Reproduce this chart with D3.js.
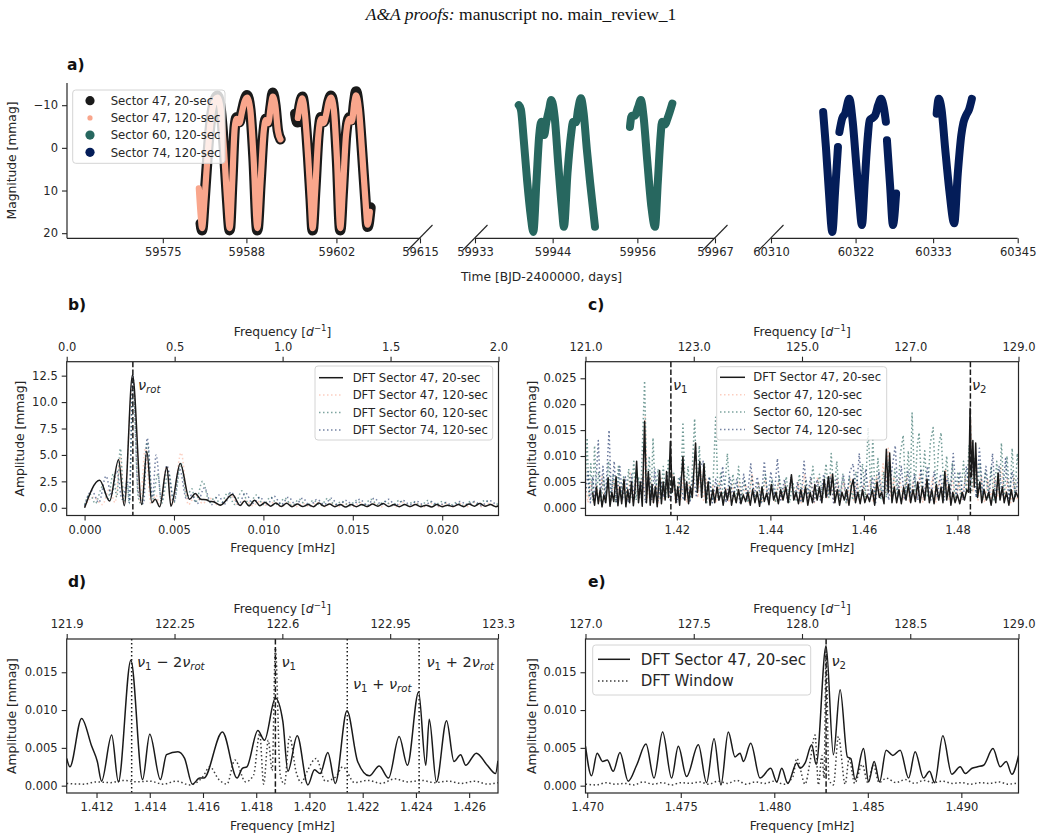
<!DOCTYPE html>
<html>
<head>
<meta charset="utf-8">
<title>TESS light curves and DFT</title>
<script src="https://cdn.jsdelivr.net/npm/d3@7"></script>
<style>
  body{ margin:0; background:#fff; }
  svg{ font-family:"DejaVu Sans", sans-serif; }
</style>
</head>
<body>
<div id="container"></div>
<script>
// ---------------- data ----------------
// panel a light curves, [BJD-2400000, mmag], split where the data have gaps
const s47_20 = [
  [[59580.9,17.7],[59581.1,19.3],[59581.5,12],[59582.0,1],[59582.5,-7],[59583.0,-11],[59583.5,-12.2],[59584.0,-9],[59584.5,0],[59585.0,12],[59585.4,19.3],
   [59585.8,8],[59586.2,-5],[59586.5,-7.2],[59586.9,-6],[59587.3,-8.5],[59587.7,-11],[59588.1,-12.3],[59588.6,-9],[59589.1,2],[59589.7,19.3],
   [59590.2,8],[59590.7,-4],[59591.0,-6.8],[59591.4,-6],[59591.8,-10],[59592.1,-12.9],[59592.5,-10],[59592.9,-4],[59593.3,-2]],
  [[59595.6,-8],[59595.9,-6],[59596.3,-10],[59596.7,-12],[59597.1,-8],[59597.6,2],[59598.0,12],[59598.3,19.3],[59598.7,10],[59599.2,-3],
   [59599.6,-7.2],[59600.0,-6],[59600.4,-8],[59600.8,-11],[59601.15,-12.2],[59601.6,-9],[59602.1,3],[59602.6,19.3],[59603.0,10],[59603.5,-3],
   [59604.0,-7.2],[59604.4,-6.5],[59604.8,-11],[59605.05,-13.2],[59605.5,-9],[59606.0,1],[59606.5,12],[59606.85,18.5],[59607.3,14]]
];
const s47_120 = [
  [[59580.6,9.5],[59580.9,16],[59581.1,18.8],[59581.5,12],[59582.0,1],[59582.5,-7],[59583.0,-10.8],[59583.5,-11.8],[59584.0,-9],[59584.5,0],[59585.0,12],[59585.4,18.8],
   [59585.8,8],[59586.2,-5],[59586.5,-6.8],[59586.9,-5.8],[59587.3,-8.3],[59587.7,-10.8],[59588.1,-11.8],[59588.6,-9],[59589.1,2],[59589.7,18.8],
   [59590.2,8],[59590.7,-4],[59591.0,-6.5],[59591.4,-5.8],[59591.8,-9.8],[59592.1,-12],[59592.5,-10],[59592.9,-4],[59593.3,-2]],
  [[59596.0,-7],[59596.3,-9.8],[59596.7,-11.6],[59597.1,-8],[59597.6,2],[59598.0,12],[59598.3,18.8],[59598.7,10],[59599.2,-3],
   [59599.6,-6.8],[59600.0,-5.8],[59600.4,-7.8],[59600.8,-10.8],[59601.15,-11.8],[59601.6,-9],[59602.1,3],[59602.6,18.8],[59603.0,10],[59603.5,-3],
   [59604.0,-6.8],[59604.4,-6.2],[59604.8,-10.8],[59605.05,-12.3],[59605.5,-9],[59606.0,1],[59606.5,12],[59606.85,18],[59607.2,15]]
];
const s60_120 = [
  [[59939.2,-10],[59939.5,-9],[59939.9,-2],[59940.4,8],[59940.9,16],[59941.26,19.7],[59941.7,8],[59942.1,-3],[59942.4,-6.1],[59942.8,-3],
   [59943.1,-6],[59943.5,-9],[59943.8,-11.2],[59944.3,-7],[59944.8,4],[59945.3,14],[59945.6,18.5],[59946.1,6],[59946.6,-3],[59946.9,-6.1],
   [59947.3,-6],[59947.6,-9],[59948.0,-11.6],[59948.4,-8],[59948.85,0.5],[59949.3,8],[59949.7,14],[59950.0,18.5]],
  [[59954.95,-4.9],[59955.2,-7.5],[59955.6,-7.5],[59956.1,-9.5],[59956.5,-11.2],[59956.9,-7],[59957.4,3],[59958.0,14],[59958.5,18.5],
   [59958.9,8],[59959.3,-3],[59959.5,-6.1],[59959.9,-5.5],[59960.3,-7],[59960.96,-10.4]]
];
const s74_120 = [
  [[60317.4,-8.4],[60317.8,0],[60318.2,10],[60318.7,19.7],[60319.1,10],[60319.5,-0.2]],
  [[60319.7,-3.7],[60320.1,-6.9],[60320.5,-8],[60321.1,-11.5],[60321.6,-6],[60322.1,4],[60322.5,12],[60322.9,18.1],[60323.3,8],[60323.7,-2],
   [60324.0,-6.5],[60324.4,-7],[60324.8,-7.7],[60325.2,-10],[60325.6,-11.5],[60326.0,-9.5],[60326.3,-6.1]],
  [[60326.45,-1.8],[60326.9,9],[60327.3,18.1],[60327.75,10.7]],
  [[60333.5,-8],[60333.8,-11.5],[60334.2,-9],[60334.7,0],[60335.3,10],[60336.0,17.7],[60336.5,6],[60337.0,-3],[60337.3,-5.9],
   [60337.7,-7.7],[60338.1,-9],[60338.5,-11.5]]
];
const lcLabels = ["Sector 47, 20-sec", "Sector 47, 120-sec", "Sector 60, 120-sec", "Sector 74, 120-sec"];
const timeTicks = [[59575,59588,59602,59615],[59933,59944,59956,59967],[60310,60322,60333,60345]];
const magTicks = [-10, 0, 10, 20];

// frequencies of the marked modes [mHz]
const nuRot = 0.0027, nu1 = 1.41872, nu2 = 1.48277;

// panel b, low frequency DFT [mHz, mmag]
const dftB47_20 = [[0,0],[0.00084,2.6],[0.0014,0.63],[0.0019,4.55],[0.00222,0.2],[0.00268,12.56],[0.0032,0.3],[0.00348,5.34],[0.00376,0.47],
  [0.00395,0.8],[0.0042,0.1],[0.0046,3.86],[0.00483,0.15],[0.00535,4.18],[0.00587,0.8],[0.00619,1.35],[0.0065,0.8],[0.0068,0.75],[0.0070,0.6],
  [0.0072,0.57],[0.0076,0.25],[0.00827,1.26],[0.0087,0.22],[0.00894,0.63],[0.0092,0.16],[0.0095,0.72],[0.0098,0.2],[0.0101,0.5],[0.0104,0.15],
  [0.0107,0.45],[0.0110,0.12],[0.0113,0.42],[0.0116,0.1],[0.0119,0.35],[0.0122,0.12],[0.0125,0.3],[0.0128,0.1],[0.0131,0.45],[0.0134,0.15],
  [0.0137,0.35],[0.0140,0.1],[0.0143,0.3],[0.0146,0.08],[0.0149,0.3],[0.0152,0.1],[0.0155,0.3],[0.0158,0.12],[0.0161,0.35],[0.0164,0.15],
  [0.0167,0.4],[0.0170,0.12],[0.0173,0.3],[0.0176,0.1],[0.0179,0.3],[0.0182,0.12],[0.0185,0.3],[0.0188,0.1],[0.0191,0.25],[0.0194,0.08],
  [0.0197,0.3],[0.0200,0.1],[0.0203,0.25],[0.0206,0.12],[0.0209,0.3],[0.0212,0.1],[0.0215,0.35],[0.0218,0.15],[0.0221,0.4],[0.0224,0.15],
  [0.0227,0.3],[0.0230,0.1],[0.0232,0.25]];
const dftB47_120 = [[0,0.1],[0.0005,1.0],[0.0010,0.3],[0.0014,1.8],[0.0017,0.5],[0.0020,4.8],[0.0022,0.4],[0.0027,12.2],[0.0031,0.5],[0.0034,5.6],
  [0.0037,0.4],[0.0040,1.2],[0.0042,0.2],[0.0046,3.9],[0.0049,0.3],[0.0054,5.2],[0.0058,0.3],[0.0062,1.2],[0.0066,0.4],[0.0070,0.9],[0.0075,0.2],
  [0.0082,1.1],[0.0086,0.2],[0.0090,0.7],[0.0094,0.2],[0.0098,0.6],[0.0102,0.2],[0.0106,0.5],[0.0110,0.1],[0.0114,0.5],[0.0118,0.1],[0.0122,0.4],
  [0.0126,0.1],[0.0130,0.5],[0.0134,0.1],[0.0138,0.4],[0.0142,0.1],[0.0146,0.4],[0.0150,0.1],[0.0154,0.5],[0.0158,0.1],[0.0162,0.4],[0.0166,0.1],
  [0.0170,0.4],[0.0174,0.1],[0.0178,0.5],[0.0182,0.1],[0.0186,0.4],[0.0190,0.1],[0.0194,0.4],[0.0198,0.1],[0.0202,0.4],[0.0206,0.1],[0.0210,0.4],
  [0.0214,0.1],[0.0218,0.5],[0.0222,0.1],[0.0226,0.4],[0.0230,0.1]];
const dftB60_120 = [[0,0.3],[0.0003,1.3],[0.0006,0.4],[0.0010,2.0],[0.0013,0.8],[0.0016,3.2],[0.0018,1.0],[0.0020,5.6],[0.0022,0.6],[0.0024,2.2],
  [0.0025,0.4],[0.0027,12.0],[0.0030,1.0],[0.0032,0.3],[0.0035,6.2],[0.0038,0.8],[0.0041,3.2],[0.0043,0.4],[0.0047,3.4],[0.0050,0.5],[0.0054,4.2],
  [0.0057,1.0],[0.0060,1.8],[0.0062,0.5],[0.0066,2.5],[0.0070,0.5],[0.0073,1.0],[0.0076,0.3],[0.0080,1.4],[0.0084,0.3],[0.0088,1.6],[0.0092,0.3],
  [0.0096,1.2],[0.0100,0.3],[0.0104,1.0],[0.0108,0.3],[0.0112,0.9],[0.0116,0.2],[0.0120,0.8],[0.0124,0.2],[0.0128,0.7],[0.0132,0.2],[0.0136,0.9],
  [0.0140,0.3],[0.0144,0.6],[0.0148,0.2],[0.0152,0.7],[0.0156,0.2],[0.0160,0.8],[0.0164,0.3],[0.0168,0.6],[0.0172,0.2],[0.0176,0.7],[0.0180,0.2],
  [0.0184,0.6],[0.0188,0.2],[0.0192,0.7],[0.0196,0.3],[0.0200,0.6],[0.0204,0.2],[0.0208,0.5],[0.0212,0.2],[0.0216,0.6],[0.0220,0.3],[0.0224,0.7],
  [0.0228,0.2],[0.0232,0.5]];
const dftB74_120 = [[0,0.2],[0.0004,1.6],[0.0008,0.5],[0.0012,3.0],[0.0015,1.2],[0.0018,3.5],[0.0021,0.8],[0.0024,2.5],[0.0025,0.5],[0.0027,12.5],
  [0.0030,1.5],[0.0033,0.4],[0.0035,6.6],[0.0038,1.0],[0.0040,5.0],[0.0043,0.7],[0.0046,4.0],[0.0050,0.6],[0.0053,3.8],[0.0057,0.8],[0.0060,1.2],
  [0.0063,0.4],[0.0067,1.9],[0.0071,0.3],[0.0075,1.2],[0.0078,0.3],[0.0082,1.5],[0.0086,0.3],[0.0090,1.4],[0.0094,0.4],[0.0098,1.0],[0.0102,0.3],
  [0.0106,1.1],[0.0110,0.3],[0.0114,1.0],[0.0118,0.3],[0.0122,0.9],[0.0126,0.2],[0.0130,0.8],[0.0134,0.3],[0.0138,0.9],[0.0142,0.2],[0.0146,0.7],
  [0.0150,0.3],[0.0154,0.8],[0.0158,0.2],[0.0162,0.9],[0.0166,0.3],[0.0170,0.8],[0.0174,0.2],[0.0178,0.7],[0.0182,0.3],[0.0186,0.6],[0.0190,0.2],
  [0.0194,0.6],[0.0198,0.2],[0.0202,0.5],[0.0206,0.2],[0.0210,0.6],[0.0214,0.3],[0.0218,0.6],[0.0222,0.2],[0.0226,0.7],[0.0230,0.3]];

// panel c, high frequency DFT [mHz, mmag]
const dftC47_20 = [[1.4020,0.003],[1.4024,0.0005],[1.4028,0.0040],[1.4032,0.0008],[1.4036,0.0035],[1.4040,0.0002],[1.4044,0.0025],[1.4048,0.0010],
  [1.4053,0.0058],[1.4057,0.0003],[1.4061,0.0030],[1.4065,0.0012],[1.4070,0.0060],[1.4074,0.0004],[1.4078,0.0040],[1.4082,0.0008],[1.4087,0.0055],
  [1.4091,0.0002],[1.4095,0.0035],[1.4099,0.0010],[1.4103,0.0050],[1.4107,0.0004],[1.4110,0.0030],[1.4114,0.0090],[1.4118,0.0010],[1.4122,0.0050],
  [1.4126,0.0003],[1.4131,0.0167],[1.4135,0.0010],[1.4139,0.0070],[1.4143,0.0005],[1.4147,0.0045],[1.4150,0.0010],[1.4154,0.0040],[1.4158,0.0002],
  [1.4163,0.0072],[1.4167,0.0008],[1.4171,0.0050],[1.4175,0.0015],[1.4178,0.0070],[1.4182,0.0020],[1.4186,0.0128],[1.4190,0.0030],[1.4194,0.0060],
  [1.4198,0.0010],[1.4202,0.0040],[1.4206,0.0005],[1.4213,0.0099],[1.4217,0.0015],[1.4221,0.0050],[1.4225,0.0008],[1.4229,0.0040],[1.4233,0.0020],
  [1.4240,0.0125],[1.4244,0.0030],[1.4249,0.0090],[1.4253,0.0020],[1.4258,0.0085],[1.4262,0.0010],[1.4267,0.0050],[1.4271,0.0005],[1.4277,0.0035],
  [1.4281,0.0010],[1.4286,0.0040],[1.4290,0.0015],[1.4295,0.0030],[1.4299,0.0005],[1.4304,0.0035],[1.4308,0.0015],[1.4313,0.0040],[1.4317,0.0005],
  [1.4322,0.0030],[1.4327,0.0010],[1.4332,0.0035],[1.4337,0.0008],[1.4342,0.0025],[1.4347,0.0012],[1.4352,0.0030],[1.4357,0.0005],[1.4362,0.0035],
  [1.4367,0.0010],[1.4372,0.0030],[1.4377,0.0003],[1.4382,0.0040],[1.4387,0.0012],[1.4392,0.0028],[1.4397,0.0006],[1.4402,0.0045],[1.4407,0.0015],
  [1.4412,0.0030],[1.4417,0.0008],[1.4422,0.0035],[1.4427,0.0015],[1.4433,0.0040],[1.4438,0.0010],[1.4445,0.0064],[1.4450,0.0015],[1.4455,0.0030],
  [1.4460,0.0008],[1.4465,0.0035],[1.4470,0.0012],[1.4475,0.0040],[1.4480,0.0005],[1.4485,0.0030],[1.4490,0.0010],[1.4495,0.0045],[1.4500,0.0015],
  [1.4505,0.0040],[1.4510,0.0010],[1.4515,0.0055],[1.4519,0.0020],[1.4524,0.0060],[1.4528,0.0025],[1.4533,0.0065],[1.4538,0.0010],[1.4543,0.0035],
  [1.4548,0.0005],[1.4553,0.0030],[1.4558,0.0015],[1.4563,0.0035],[1.4568,0.0005],[1.4573,0.0040],[1.4577,0.0055],[1.4582,0.0010],[1.4587,0.0030],
  [1.4592,0.0008],[1.4597,0.0035],[1.4602,0.0010],[1.4607,0.0025],[1.4612,0.0012],[1.4618,0.0035],[1.4623,0.0005],[1.4628,0.0050],[1.4633,0.0020],
  [1.4638,0.0030],[1.4643,0.0008],[1.4648,0.0113],[1.4652,0.0030],[1.4655,0.0106],[1.4660,0.0010],[1.4665,0.0040],[1.4670,0.0010],[1.4675,0.0035],
  [1.4680,0.0008],[1.4685,0.0040],[1.4690,0.0015],[1.4695,0.0045],[1.4700,0.0010],[1.4705,0.0035],[1.4710,0.0012],[1.4715,0.0050],[1.4720,0.0010],
  [1.4725,0.0040],[1.4730,0.0015],[1.4735,0.0055],[1.4740,0.0010],[1.4745,0.0035],[1.4750,0.0008],[1.4755,0.0045],[1.4760,0.0015],[1.4765,0.0040],
  [1.4769,0.0010],[1.4773,0.0070],[1.4777,0.0015],[1.4782,0.0045],[1.4786,0.0005],[1.4790,0.0030],[1.4795,0.0010],[1.4800,0.0025],[1.4805,0.0008],
  [1.4810,0.0030],[1.4815,0.0015],[1.4820,0.0035],[1.4824,0.0030],[1.4827,0.0192],[1.4830,0.0060],[1.4833,0.0130],[1.4836,0.0040],[1.4839,0.0125],
  [1.4843,0.0020],[1.4848,0.0050],[1.4852,0.0010],[1.4857,0.0035],[1.4862,0.0015],[1.4867,0.0030],[1.4872,0.0005],[1.4877,0.0035],[1.4882,0.0010],
  [1.4887,0.0067],[1.4891,0.0015],[1.4896,0.0040],[1.4900,0.0010],[1.4905,0.0030],[1.4910,0.0005],[1.4915,0.0035],[1.4920,0.0012],[1.4925,0.0030],
  [1.4930,0.0020],[1.4933,0.0028]];
const dftC47_120 = [[1.4005,0.0040],[1.4010,0.0010],[1.4016,0.0050],[1.4022,0.0010],[1.4028,0.0045],[1.4034,0.0010],[1.4040,0.0060],[1.4046,0.0015],
  [1.4052,0.0050],[1.4058,0.0010],[1.4064,0.0055],[1.4070,0.0010],[1.4076,0.0045],[1.4082,0.0010],[1.4088,0.0050],[1.4094,0.0015],[1.4100,0.0070],
  [1.4106,0.0010],[1.4112,0.0060],[1.4118,0.0015],[1.4124,0.0055],[1.4129,0.0030],[1.4132,0.0175],[1.4137,0.0020],[1.4143,0.0060],[1.4149,0.0010],
  [1.4155,0.0045],[1.4161,0.0010],[1.4167,0.0060],[1.4173,0.0015],[1.4179,0.0050],[1.4185,0.0020],[1.4191,0.0065],[1.4197,0.0010],[1.4203,0.0050],
  [1.4209,0.0015],[1.4215,0.0070],[1.4221,0.0010],[1.4227,0.0050],[1.4233,0.0020],[1.4239,0.0110],[1.4245,0.0020],[1.4251,0.0070],[1.4257,0.0015],
  [1.4263,0.0055],[1.4270,0.0010],[1.4277,0.0045],[1.4284,0.0010],[1.4291,0.0050],[1.4298,0.0015],[1.4305,0.0040],[1.4312,0.0010],[1.4319,0.0045],
  [1.4326,0.0010],[1.4333,0.0050],[1.4340,0.0015],[1.4347,0.0045],[1.4354,0.0010],[1.4361,0.0065],[1.4368,0.0015],[1.4375,0.0050],[1.4382,0.0010],
  [1.4389,0.0055],[1.4396,0.0015],[1.4403,0.0045],[1.4410,0.0010],[1.4417,0.0050],[1.4424,0.0015],[1.4431,0.0045],[1.4438,0.0010],[1.4445,0.0060],
  [1.4452,0.0015],[1.4459,0.0050],[1.4466,0.0010],[1.4473,0.0065],[1.4480,0.0015],[1.4487,0.0055],[1.4494,0.0010],[1.4501,0.0060],[1.4508,0.0015],
  [1.4515,0.0050],[1.4522,0.0020],[1.4529,0.0065],[1.4536,0.0010],[1.4543,0.0055],[1.4550,0.0015],[1.4557,0.0050],[1.4564,0.0010],[1.4571,0.0055],
  [1.4578,0.0015],[1.4585,0.0050],[1.4592,0.0010],[1.4599,0.0045],[1.4606,0.0015],[1.4613,0.0055],[1.4620,0.0010],[1.4627,0.0060],[1.4634,0.0020],
  [1.4641,0.0085],[1.4647,0.0030],[1.4652,0.0115],[1.4658,0.0020],[1.4664,0.0060],[1.4670,0.0010],[1.4677,0.0055],[1.4684,0.0015],[1.4691,0.0060],
  [1.4698,0.0010],[1.4705,0.0050],[1.4712,0.0015],[1.4719,0.0065],[1.4726,0.0010],[1.4733,0.0055],[1.4740,0.0015],[1.4747,0.0060],[1.4754,0.0010],
  [1.4761,0.0055],[1.4768,0.0020],[1.4775,0.0075],[1.4782,0.0015],[1.4789,0.0055],[1.4796,0.0010],[1.4803,0.0050],[1.4810,0.0015],[1.4817,0.0060],
  [1.4823,0.0030],[1.4828,0.0170],[1.4833,0.0030],[1.4838,0.0090],[1.4844,0.0015],[1.4851,0.0060],[1.4858,0.0010],[1.4865,0.0055],[1.4872,0.0015],
  [1.4879,0.0060],[1.4886,0.0020],[1.4893,0.0080],[1.4900,0.0015],[1.4907,0.0055],[1.4914,0.0010],[1.4921,0.0060],[1.4928,0.0015],[1.4933,0.0050]];
const dftC60_120 = [[1.4005,0.0060],[1.4008,0.0135],[1.4012,0.0020],[1.4016,0.0085],[1.4020,0.0015],[1.4024,0.0120],[1.4028,0.0025],[1.4033,0.0070],
  [1.4038,0.0010],[1.4043,0.0060],[1.4048,0.0020],[1.4054,0.0090],[1.4059,0.0015],[1.4064,0.0065],[1.4069,0.0010],[1.4075,0.0080],[1.4080,0.0020],
  [1.4086,0.0060],[1.4091,0.0010],[1.4097,0.0075],[1.4102,0.0020],[1.4108,0.0090],[1.4113,0.0015],[1.4118,0.0060],[1.4123,0.0030],[1.4131,0.0245],
  [1.4136,0.0030],[1.4141,0.0100],[1.4145,0.0020],[1.4149,0.0135],[1.4154,0.0020],[1.4160,0.0075],[1.4165,0.0015],[1.4171,0.0080],[1.4176,0.0020],
  [1.4182,0.0095],[1.4187,0.0025],[1.4193,0.0070],[1.4198,0.0015],[1.4204,0.0060],[1.4208,0.0020],[1.4213,0.0165],[1.4218,0.0025],[1.4224,0.0080],
  [1.4229,0.0015],[1.4233,0.0075],[1.4238,0.0172],[1.4243,0.0030],[1.4248,0.0120],[1.4253,0.0020],[1.4259,0.0085],[1.4264,0.0010],[1.4270,0.0060],
  [1.4276,0.0015],[1.4283,0.0175],[1.4288,0.0020],[1.4294,0.0070],[1.4300,0.0010],[1.4308,0.0105],[1.4314,0.0020],[1.4320,0.0065],[1.4326,0.0010],
  [1.4332,0.0080],[1.4338,0.0015],[1.4345,0.0055],[1.4352,0.0010],[1.4360,0.0060],[1.4367,0.0015],[1.4374,0.0050],[1.4381,0.0010],[1.4389,0.0065],
  [1.4396,0.0015],[1.4404,0.0055],[1.4411,0.0010],[1.4419,0.0060],[1.4426,0.0020],[1.4434,0.0060],[1.4441,0.0010],[1.4448,0.0050],[1.4455,0.0015],
  [1.4462,0.0065],[1.4469,0.0010],[1.4476,0.0055],[1.4483,0.0020],[1.4491,0.0080],[1.4498,0.0015],[1.4505,0.0065],[1.4512,0.0020],[1.4519,0.0085],
  [1.4525,0.0020],[1.4530,0.0105],[1.4536,0.0025],[1.4542,0.0090],[1.4548,0.0015],[1.4555,0.0065],[1.4562,0.0010],[1.4569,0.0060],[1.4576,0.0015],
  [1.4583,0.0070],[1.4590,0.0020],[1.4597,0.0085],[1.4603,0.0020],[1.4609,0.0155],[1.4615,0.0030],[1.4619,0.0135],[1.4624,0.0020],[1.4630,0.0095],
  [1.4636,0.0015],[1.4642,0.0070],[1.4648,0.0020],[1.4654,0.0090],[1.4660,0.0015],[1.4666,0.0075],[1.4672,0.0020],[1.4678,0.0105],[1.4684,0.0140],
  [1.4689,0.0030],[1.4695,0.0110],[1.4699,0.0025],[1.4703,0.0183],[1.4709,0.0030],[1.4714,0.0120],[1.4718,0.0145],[1.4724,0.0030],[1.4730,0.0110],
  [1.4736,0.0020],[1.4742,0.0125],[1.4748,0.0155],[1.4754,0.0030],[1.4760,0.0120],[1.4765,0.0145],[1.4771,0.0030],[1.4777,0.0100],[1.4783,0.0020],
  [1.4789,0.0085],[1.4795,0.0015],[1.4801,0.0070],[1.4807,0.0020],[1.4813,0.0090],[1.4819,0.0025],[1.4825,0.0120],[1.4830,0.0030],[1.4836,0.0095],
  [1.4842,0.0020],[1.4848,0.0085],[1.4854,0.0015],[1.4860,0.0070],[1.4866,0.0020],[1.4872,0.0080],[1.4878,0.0015],[1.4884,0.0090],[1.4890,0.0025],
  [1.4894,0.0125],[1.4900,0.0020],[1.4906,0.0100],[1.4912,0.0015],[1.4917,0.0115],[1.4923,0.0020],[1.4928,0.0105],[1.4933,0.0060]];
const dftC74_120 = [[1.4005,0.0030],[1.4010,0.0070],[1.4015,0.0010],[1.4020,0.0060],[1.4025,0.0015],[1.4032,0.0130],[1.4037,0.0020],[1.4042,0.0080],
  [1.4047,0.0010],[1.4055,0.0150],[1.4060,0.0020],[1.4066,0.0090],[1.4071,0.0010],[1.4078,0.0080],[1.4084,0.0015],[1.4090,0.0060],[1.4096,0.0010],
  [1.4103,0.0065],[1.4109,0.0015],[1.4114,0.0070],[1.4120,0.0020],[1.4127,0.0060],[1.4133,0.0010],[1.4140,0.0060],[1.4146,0.0015],[1.4153,0.0075],
  [1.4159,0.0010],[1.4166,0.0050],[1.4172,0.0020],[1.4179,0.0065],[1.4186,0.0015],[1.4193,0.0055],[1.4200,0.0010],[1.4207,0.0060],[1.4214,0.0015],
  [1.4221,0.0050],[1.4228,0.0010],[1.4235,0.0065],[1.4242,0.0020],[1.4249,0.0075],[1.4256,0.0090],[1.4262,0.0015],[1.4269,0.0060],[1.4276,0.0010],
  [1.4283,0.0055],[1.4290,0.0015],[1.4298,0.0080],[1.4305,0.0010],[1.4313,0.0060],[1.4320,0.0020],[1.4328,0.0055],[1.4335,0.0010],[1.4343,0.0065],
  [1.4350,0.0015],[1.4358,0.0085],[1.4365,0.0020],[1.4372,0.0060],[1.4380,0.0010],[1.4387,0.0090],[1.4394,0.0015],[1.4401,0.0070],[1.4408,0.0020],
  [1.4415,0.0095],[1.4422,0.0015],[1.4430,0.0055],[1.4437,0.0010],[1.4444,0.0060],[1.4451,0.0015],[1.4458,0.0050],[1.4465,0.0010],[1.4472,0.0090],
  [1.4479,0.0020],[1.4486,0.0060],[1.4493,0.0010],[1.4500,0.0055],[1.4507,0.0015],[1.4514,0.0065],[1.4521,0.0020],[1.4528,0.0060],[1.4535,0.0010],
  [1.4542,0.0055],[1.4549,0.0020],[1.4556,0.0065],[1.4563,0.0015],[1.4570,0.0070],[1.4577,0.0085],[1.4583,0.0020],[1.4590,0.0105],[1.4597,0.0025],
  [1.4604,0.0075],[1.4611,0.0015],[1.4618,0.0060],[1.4625,0.0010],[1.4632,0.0070],[1.4639,0.0020],[1.4646,0.0065],[1.4653,0.0015],[1.4660,0.0075],
  [1.4667,0.0120],[1.4673,0.0020],[1.4680,0.0080],[1.4687,0.0015],[1.4694,0.0070],[1.4701,0.0020],[1.4708,0.0065],[1.4715,0.0015],[1.4722,0.0075],
  [1.4729,0.0020],[1.4736,0.0080],[1.4743,0.0015],[1.4750,0.0070],[1.4757,0.0020],[1.4764,0.0065],[1.4771,0.0015],[1.4778,0.0060],[1.4785,0.0025],
  [1.4791,0.0105],[1.4798,0.0020],[1.4805,0.0070],[1.4812,0.0015],[1.4819,0.0080],[1.4826,0.0030],[1.4833,0.0090],[1.4840,0.0020],[1.4847,0.0115],
  [1.4854,0.0025],[1.4861,0.0080],[1.4868,0.0020],[1.4875,0.0105],[1.4882,0.0015],[1.4889,0.0080],[1.4896,0.0025],[1.4903,0.0095],[1.4910,0.0015],
  [1.4917,0.0070],[1.4924,0.0020],[1.4930,0.0060]];

// panel d, around nu1 [mHz, mmag]
const dftD47_20 = [[1.41088,0.0036],[1.41100,0.0025],[1.41144,0.0089],[1.41182,0.0052],[1.41203,0.0032],[1.41219,0.0006],[1.41257,0.0067],
  [1.41282,0.0005],[1.41329,0.0166],[1.41373,0.0008],[1.41400,0.0068],[1.41440,0.0008],[1.41463,0.0041],[1.41506,0.0045],[1.41531,0.0036],
  [1.41560,0.0002],[1.41588,0.0010],[1.41603,0.0010],[1.41673,0.0071],[1.41728,0.0010],[1.41748,0.0023],[1.41765,0.0025],[1.41806,0.0073],
  [1.41831,0.0060],[1.41872,0.0116],[1.41900,0.0085],[1.41919,0.0019],[1.41954,0.0066],[1.41994,0.0001],[1.42019,0.0021],[1.42040,0.0016],
  [1.42069,0.0044],[1.42097,0.0003],[1.42141,0.0099],[1.42181,0.0032],[1.42225,0.0013],[1.42262,0.0026],[1.42297,0.0010],[1.42337,0.0065],
  [1.42368,0.0027],[1.42410,0.0124],[1.42437,0.0027],[1.42450,0.0088],[1.42477,0.0005],[1.42515,0.0086],[1.42543,0.0032],[1.42568,0.0041],
  [1.42587,0.0027],[1.42627,0.0043],[1.42668,0.0027],[1.42699,0.0016],[1.42708,0.0033]];
const windowD = [[1.41088,0.0003],[1.4115,0.0002],[1.4120,0.0005],[1.4125,0.0004],[1.4130,0.0007],[1.4135,0.0005],[1.4140,0.0006],[1.4145,0.0002],
  [1.4150,0.0006],[1.4155,0.0001],[1.4160,0.0012],[1.41625,0.0025],[1.4166,0.0008],[1.4169,0.0002],[1.4172,0.0034],[1.4176,0.0005],[1.4179,0.0014],
  [1.41813,0.0069],[1.41828,0.0002],[1.41845,0.0060],[1.4186,0.0020],[1.41872,0.0182],[1.4189,0.0015],[1.41906,0.0002],[1.41925,0.0065],
  [1.4195,0.0018],[1.4197,0.0004],[1.4199,0.0018],[1.42025,0.0036],[1.4206,0.0006],[1.4210,0.0012],[1.42125,0.0025],[1.4217,0.0004],[1.4222,0.0007],
  [1.4227,0.0003],[1.4232,0.0009],[1.4237,0.0005],[1.4242,0.0007],[1.4247,0.0004],[1.4252,0.0006],[1.4257,0.0003],[1.4262,0.0006],[1.4267,0.0002],
  [1.42708,0.0004]];

// panel e, around nu2 [mHz, mmag]
const dftE47_20 = [[1.46991,0.0052],[1.47023,0.0013],[1.47053,0.0043],[1.47082,0.0032],[1.47107,0.0034],[1.47139,0.0019],[1.47175,0.0044],
  [1.47219,0.0006],[1.47264,0.0027],[1.47314,0.0055],[1.47357,0.0010],[1.47403,0.0071],[1.47451,0.0010],[1.47487,0.0052],[1.47531,0.0012],
  [1.47594,0.0054],[1.47638,0.0004],[1.47678,0.0062],[1.47715,0.0001],[1.47754,0.0071],[1.47790,0.0038],[1.47817,0.0043],[1.47835,0.0032],
  [1.47874,0.0056],[1.47924,0.0010],[1.47981,0.0023],[1.48013,0.0005],[1.48040,0.0023],[1.48072,0.0003],[1.48120,0.0030],[1.48138,0.0023],
  [1.48165,0.0030],[1.48200,0.0054],[1.48224,0.0028],[1.48277,0.0185],[1.48316,0.0041],[1.48352,0.0127],[1.48391,0.0038],[1.48409,0.0036],
  [1.48432,0.0008],[1.48477,0.0049],[1.48504,0.0005],[1.48534,0.0032],[1.48563,0.0005],[1.48598,0.0047],[1.48634,0.0040],[1.48673,0.0047],
  [1.48718,0.0010],[1.48753,0.0045],[1.48798,0.0010],[1.48830,0.0019],[1.48857,0.0004],[1.48901,0.0066],[1.48949,0.0015],[1.48994,0.0025],
  [1.49021,0.0016],[1.49057,0.0023],[1.49087,0.0025],[1.49119,0.0027],[1.49169,0.0049],[1.49208,0.0025],[1.49240,0.0032],[1.49270,0.0015],
  [1.49306,0.0040]];
const windowE = [[1.46991,0.0002],[1.4705,0.0001],[1.4710,0.0004],[1.4715,0.0002],[1.4720,0.0003],[1.4725,0.0001],[1.4730,0.0005],[1.4735,0.0002],
  [1.4740,0.0004],[1.4745,0.0001],[1.4750,0.0004],[1.4755,0.0003],[1.4760,0.0005],[1.4765,0.0002],[1.4770,0.0006],[1.4775,0.0003],[1.4780,0.0007],
  [1.4785,0.0002],[1.4790,0.0005],[1.4795,0.0003],[1.4800,0.0006],[1.4805,0.0002],[1.4810,0.0012],[1.4812,0.0036],[1.48165,0.0002],[1.4819,0.0030],
  [1.48218,0.0067],[1.48236,0.0001],[1.48255,0.0040],[1.48266,0.0010],[1.48277,0.0177],[1.48292,0.0008],[1.48316,0.0001],[1.48343,0.0065],
  [1.48379,0.0002],[1.4840,0.0036],[1.4843,0.0003],[1.4847,0.0028],[1.4850,0.0004],[1.4853,0.0027],[1.4856,0.0004],[1.4860,0.0010],[1.4865,0.0004],
  [1.4870,0.0008],[1.4875,0.0003],[1.4880,0.0007],[1.4885,0.0004],[1.4890,0.0006],[1.4895,0.0003],[1.4900,0.0004],[1.4905,0.0002],[1.4910,0.0004],
  [1.4915,0.0003],[1.4920,0.0005],[1.4925,0.0002],[1.49306,0.0004]];

// ---------------- drawing ----------------
const ink = "#262626";
const colS47 = "#f9a68c", colS60 = "#27675f", colS74 = "#041d59", colBlack = "#1a1a1a";

const svg = d3.select("#container").append("svg")
    .attr("width", 1042).attr("height", 838);

svg.append("text")
    .attr("x", 521).attr("y", 20)
    .attr("text-anchor", "middle")
    .attr("font-family", "'Liberation Serif', serif")
    .attr("font-size", 17.5)
    .attr("fill", "#111")
    .call(t => {
      t.append("tspan").attr("font-style", "italic").text("A&A proofs:");
      t.append("tspan").text(" manuscript no. main_review_1");
    });

function styleAxis(sel, fs) {
  sel.attr("font-family", null).attr("font-size", fs);
  sel.select(".domain").remove();
  sel.selectAll(".tick line").attr("stroke", ink).attr("stroke-width", 1.1);
  sel.selectAll(".tick text").attr("fill", ink);
}

// math text: parts are [text, flags] where flags has "i" (italic), "s" (subscript), "p" (superscript)
function mathText(g, x, y, parts, fs, anchor) {
  const t = g.append("text").attr("x", x).attr("y", y).attr("font-size", fs)
      .attr("fill", ink).attr("text-anchor", anchor || "start");
  let shift = 0;
  parts.forEach(p => {
    const s = t.append("tspan").text(p[0]);
    const f = p[1] || "";
    const target = f.includes("s") ? fs * 0.22 : (f.includes("p") ? -fs * 0.38 : 0);
    s.attr("dy", target - shift);
    shift = target;
    if (f.includes("s") || f.includes("p")) s.attr("font-size", fs * 0.7);
    if (f.includes("i")) s.attr("font-style", "italic");
  });
  return t;
}

function panelLetter(x, y, s) {
  svg.append("text").attr("x", x).attr("y", y).attr("font-size", 15.5)
      .attr("font-weight", "bold").attr("fill", "#111").text(s);
}

function legend(g, o) {
  const lg = g.append("g");
  lg.append("rect").attr("x", o.x).attr("y", o.y).attr("width", o.w).attr("height", o.h)
      .attr("rx", 3).attr("fill", "#fff").attr("fill-opacity", 0.8)
      .attr("stroke", "#d4d4d4").attr("stroke-width", 1);
  o.items.forEach((it, i) => {
    const cy = o.y + o.first + i * o.step;
    if (it.r) {
      lg.append("circle").attr("cx", o.hx0).attr("cy", cy).attr("r", it.r).attr("fill", it.color);
    } else {
      lg.append("line").attr("x1", o.hx0).attr("x2", o.hx1).attr("y1", cy).attr("y2", cy)
          .attr("stroke", it.color).attr("stroke-width", 1.5)
          .attr("stroke-opacity", it.op || 1)
          .attr("stroke-dasharray", it.dash || null);
    }
    lg.append("text").attr("x", o.tx).attr("y", cy).attr("dy", "0.36em")
        .attr("font-size", o.fs).attr("fill", ink).text(it.label);
  });
}

// ---------- panel a ----------
const yA = d3.scaleLinear().domain([-15.2, 21.2]).range([83, 238.3]);
const segs = [
  { dom: [59560.1, 59615], rng: [67, 420], cutL: false, cutR: true },
  { dom: [59933, 59967], rng: [475, 715], cutL: true, cutR: true },
  { dom: [60310, 60345], rng: [771, 1017.7], cutL: true, cutR: false }
];
const gA = svg.append("g");
const lcSeries = [
  { data: s47_20, seg: 0, color: colBlack, w: 10.5 },
  { data: s47_120, seg: 0, color: colS47, w: 6.2 },
  { data: s60_120, seg: 1, color: colS60, w: 8 },
  { data: s74_120, seg: 2, color: colS74, w: 8 }
];
segs.forEach((s, i) => {
  s.x = d3.scaleLinear().domain(s.dom).range(s.rng);
  gA.append("g").attr("transform", "translate(0,238.3)")
      .call(d3.axisBottom(s.x).tickValues(timeTicks[i]).tickFormat(d3.format("d")).tickSize(5).tickPadding(5))
      .call(styleAxis, 11.5);
  gA.append("line").attr("x1", s.rng[0]).attr("x2", s.rng[1]).attr("y1", 238.3).attr("y2", 238.3)
      .attr("stroke", ink).attr("stroke-width", 1.2);
  [[s.cutL, s.rng[0]], [s.cutR, s.rng[1]]].forEach(c => {
    if (c[0]) gA.append("line").attr("x1", c[1] - 12.5).attr("y1", 250.5).attr("x2", c[1] + 12.5).attr("y2", 225)
        .attr("stroke", ink).attr("stroke-width", 1.1);
  });
});
lcSeries.forEach(ser => {
  const sx = segs[ser.seg].x;
  const line = d3.line().x(d => sx(d[0])).y(d => yA(d[1])).curve(d3.curveMonotoneX);
  ser.data.forEach(part => {
    gA.append("path").datum(part).attr("d", line).attr("fill", "none")
        .attr("stroke", ser.color).attr("stroke-width", ser.w)
        .attr("stroke-linecap", "round").attr("stroke-linejoin", "round");
  });
});
gA.append("g").attr("transform", "translate(67,0)")
    .call(d3.axisLeft(yA).tickValues(magTicks).tickSize(5).tickPadding(4))
    .call(styleAxis, 11.5);
gA.append("line").attr("x1", 67).attr("x2", 67).attr("y1", 83).attr("y2", 238.3)
    .attr("stroke", ink).attr("stroke-width", 1.2);
gA.append("text").attr("transform", "translate(12,160.5) rotate(-90)").attr("dy", "0.36em")
    .attr("text-anchor", "middle").attr("font-size", 12.3).attr("fill", ink).text("Magnitude [mmag]");
gA.append("text").attr("x", 541.5).attr("y", 280.5).attr("text-anchor", "middle")
    .attr("font-size", 12.3).attr("fill", ink).text("Time [BJD-2400000, days]");
legend(gA, {
  x: 72.7, y: 90, w: 152.3, h: 73.3, first: 10.7, step: 17.2, hx0: 90, tx: 110.7, fs: 11.7,
  items: [
    { r: 4.6, color: colBlack, label: lcLabels[0] },
    { r: 2.6, color: colS47, label: lcLabels[1] },
    { r: 4.6, color: colS60, label: lcLabels[2] },
    { r: 4.6, color: colS74, label: lcLabels[3] }
  ]
});
panelLetter(67, 70, "a)");

// ---------- frequency panels ----------
function freqPanel(p) {
  const x = d3.scaleLinear().domain(p.xDom).range([p.l, p.r]);
  const xTop = d3.scaleLinear().domain(p.topDom).range([p.l, p.r]);
  const y = d3.scaleLinear().domain(p.yDom).range([p.b, p.t]);
  const g = svg.append("g");
  const cid = "clip-" + p.id;
  svg.append("clipPath").attr("id", cid).append("rect")
      .attr("x", p.l).attr("y", p.t).attr("width", p.r - p.l).attr("height", p.b - p.t);
  const plot = g.append("g").attr("clip-path", "url(#" + cid + ")");
  g.append("g").attr("transform", "translate(0," + p.b + ")")
      .call(d3.axisBottom(x).tickValues(p.xTicks).tickFormat(d3.format(p.xFmt)).tickSize(5).tickPadding(5))
      .call(styleAxis, 11.5);
  g.append("g").attr("transform", "translate(0," + p.t + ")")
      .call(d3.axisTop(xTop).tickValues(p.topTicks).tickFormat(p.topFmt).tickSize(5).tickPadding(6))
      .call(styleAxis, 11.5);
  g.append("g").attr("transform", "translate(" + p.l + ",0)")
      .call(d3.axisLeft(y).tickValues(p.yTicks).tickFormat(d3.format(p.yFmt)).tickSize(5).tickPadding(4))
      .call(styleAxis, 11.5);
  g.append("rect").attr("x", p.l).attr("y", p.t).attr("width", p.r - p.l).attr("height", p.b - p.t)
      .attr("fill", "none").attr("stroke", ink).attr("stroke-width", 1.2);
  const cx = (p.l + p.r) / 2;
  g.append("text").attr("x", cx).attr("y", p.b + 36.5).attr("text-anchor", "middle")
      .attr("font-size", 12.3).attr("fill", ink).text("Frequency [mHz]");
  mathText(g, cx, p.t - 26, [["Frequency ["], ["d", "i"], ["\u22121", "p"], ["]"]], 12.3, "middle");
  g.append("text").attr("transform", "translate(" + p.yLab + "," + (p.t + p.b) / 2 + ") rotate(-90)")
      .attr("dy", "0.36em").attr("text-anchor", "middle").attr("font-size", 12.3).attr("fill", ink)
      .text("Amplitude [mmag]");
  return { g, plot, x, y, p };
}

function drawSeries(P, data, color, dotted, op, curve) {
  const line = d3.line().x(d => P.x(d[0])).y(d => P.y(d[1])).curve(curve || d3.curveMonotoneX);
  P.plot.append("path").datum(data).attr("d", line).attr("fill", "none")
      .attr("stroke", color).attr("stroke-width", 1.5).attr("stroke-opacity", op || 1)
      .attr("stroke-dasharray", dotted ? "1.5,2.5" : null).attr("stroke-linejoin", "round");
}

function vline(P, f, dash) {
  P.plot.append("line").attr("x1", P.x(f)).attr("x2", P.x(f)).attr("y1", P.p.t).attr("y2", P.p.b)
      .attr("stroke", colBlack).attr("stroke-width", 1.5).attr("stroke-dasharray", dash);
}

const fmt1 = d3.format(".1f");
const dashed = "5.5,2.4", dots = "1.5,2.5";

// panel b
const B = freqPanel({ id: "b", l: 66.7, r: 498.5, t: 361.7, b: 515.5,
  xDom: [-0.001, 2 / 86.4], topDom: [0, 2], yDom: [-0.73, 13.82],
  xTicks: [0, 0.005, 0.01, 0.015, 0.02], xFmt: ".3f",
  topTicks: [0, 0.5, 1, 1.5, 2], topFmt: fmt1,
  yTicks: [0, 2.5, 5, 7.5, 10, 12.5], yFmt: ".1f", yLab: 20 });
drawSeries(B, dftB47_120, colS47, true, 0.55);
drawSeries(B, dftB60_120, colS60, true, 0.6);
drawSeries(B, dftB74_120, colS74, true, 0.55);
drawSeries(B, dftB47_20, colBlack, false);
vline(B, nuRot, dashed);
mathText(B.g, 138, 390, [["\u03bd", "i"], ["rot", "is"]], 14.5);
legend(B.g, { x: 315, y: 366, w: 177.7, h: 74, first: 11.7, step: 17.4, hx0: 319, hx1: 343, tx: 352.7, fs: 11.6,
  items: [
    { color: colBlack, label: "DFT Sector 47, 20-sec" },
    { color: colS47, dash: dots, op: 0.55, label: "DFT Sector 47, 120-sec" },
    { color: colS60, dash: dots, op: 0.6, label: "DFT Sector 60, 120-sec" },
    { color: colS74, dash: dots, op: 0.55, label: "DFT Sector 74, 120-sec" }
  ] });
panelLetter(68, 310, "b)");

// panel c
const C = freqPanel({ id: "c", l: 585.5, r: 1018.5, t: 361.7, b: 515.5,
  xDom: [121 / 86.4, 129 / 86.4], topDom: [121, 129], yDom: [-0.00148, 0.0282],
  xTicks: [1.42, 1.44, 1.46, 1.48], xFmt: ".2f",
  topTicks: [121, 123, 125, 127, 129], topFmt: fmt1,
  yTicks: [0, 0.005, 0.01, 0.015, 0.02, 0.025], yFmt: ".3f", yLab: 532 });
drawSeries(C, dftC47_120, colS47, true, 0.6, d3.curveLinear);
drawSeries(C, dftC60_120, colS60, true, 0.65, d3.curveLinear);
drawSeries(C, dftC74_120, colS74, true, 0.6, d3.curveLinear);
drawSeries(C, dftC47_20, colBlack, false, 1, d3.curveLinear);
vline(C, nu1, dashed);
vline(C, nu2, dashed);
mathText(C.g, 673, 390, [["\u03bd", "i"], ["1", "s"]], 14.5);
mathText(C.g, 972, 390, [["\u03bd", "i"], ["2", "s"]], 14.5);
legend(C.g, { x: 716.7, y: 366.7, w: 170, h: 73.3, first: 10.6, step: 17.4, hx0: 720, hx1: 745, tx: 753.3, fs: 11.6,
  items: [
    { color: colBlack, label: "DFT Sector 47, 20-sec" },
    { color: colS47, dash: dots, op: 0.55, label: "Sector 47, 120-sec" },
    { color: colS60, dash: dots, op: 0.6, label: "Sector 60, 120-sec" },
    { color: colS74, dash: dots, op: 0.55, label: "Sector 74, 120-sec" }
  ] });
panelLetter(588, 310, "c)");

// panel d
const D = freqPanel({ id: "d", l: 66.7, r: 498, t: 639, b: 793,
  xDom: [121.9 / 86.4, 123.3 / 86.4], topDom: [121.9, 123.3], yDom: [-0.00097, 0.0194],
  xTicks: [1.412, 1.414, 1.416, 1.418, 1.42, 1.422, 1.424, 1.426], xFmt: ".3f",
  topTicks: [121.9, 122.25, 122.6, 122.95, 123.3], topFmt: d => String(d),
  yTicks: [0, 0.005, 0.01, 0.015], yFmt: ".3f", yLab: 12 });
drawSeries(D, windowD, colBlack, true, 0.85);
drawSeries(D, dftD47_20, colBlack, false);
const combLines = [nu1 - 2 * nuRot, nu1 + nuRot, nu1 + 2 * nuRot];
combLines.forEach(f => vline(D, f, dots));
vline(D, nu1, dashed);
mathText(D.g, 137, 667, [["\u03bd", "i"], ["1", "s"], [" \u2212 2"], ["\u03bd", "i"], ["rot", "is"]], 14.5);
mathText(D.g, 281.5, 667, [["\u03bd", "i"], ["1", "s"]], 14.5);
mathText(D.g, 353, 688.5, [["\u03bd", "i"], ["1", "s"], [" + "], ["\u03bd", "i"], ["rot", "is"]], 14.5);
mathText(D.g, 426.5, 667, [["\u03bd", "i"], ["1", "s"], [" + 2"], ["\u03bd", "i"], ["rot", "is"]], 14.5);
panelLetter(68, 587, "d)");

// panel e
const E = freqPanel({ id: "e", l: 585.5, r: 1018.5, t: 639, b: 793,
  xDom: [127 / 86.4, 129 / 86.4], topDom: [127, 129], yDom: [-0.00097, 0.0194],
  xTicks: [1.47, 1.475, 1.48, 1.485, 1.49], xFmt: ".3f",
  topTicks: [127, 127.5, 128, 128.5, 129], topFmt: fmt1,
  yTicks: [0, 0.005, 0.01, 0.015], yFmt: ".3f", yLab: 532 });
drawSeries(E, windowE, colBlack, true, 0.85);
drawSeries(E, dftE47_20, colBlack, false);
vline(E, nu2, dashed);
mathText(E.g, 831.5, 666, [["\u03bd", "i"], ["2", "s"]], 14.5);
legend(E.g, { x: 592.7, y: 645, w: 218, h: 50, first: 14.3, step: 21.7, hx0: 598, hx1: 630, tx: 640.7, fs: 15,
  items: [
    { color: colBlack, label: "DFT Sector 47, 20-sec" },
    { color: colBlack, dash: dots, op: 0.85, label: "DFT Window" }
  ] });
panelLetter(588, 587, "e)");
</script>
</body>
</html>
